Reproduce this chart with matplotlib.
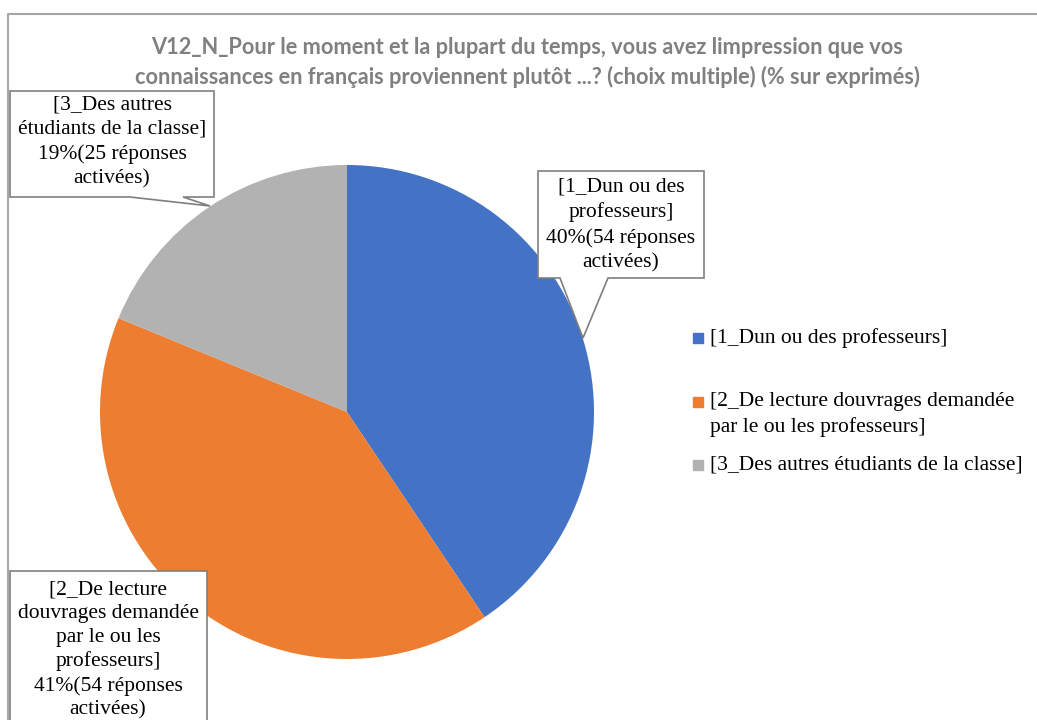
import numpy as np
import matplotlib
matplotlib.use("Agg")
import matplotlib.pyplot as plt
from matplotlib.patches import Polygon, Rectangle

# data
categories = ["[1_Dun ou des professeurs]",
              "[2_De lecture douvrages demandée par le ou les professeurs]",
              "[3_Des autres étudiants de la classe]"]
responses = [54, 54, 25]
pct_labels = ["40%", "41%", "19%"]
slice_labels = ["[1_Dun ou des\nprofesseurs]\n40%(54 réponses\nactivées)",
                "[2_De lecture\ndouvrages demandée\npar le ou les\nprofesseurs]\n41%(54 réponses\nactivées)",
                "[3_Des autres\nétudiants de la classe]\n19%(25 réponses\nactivées)"]
legend_labels = ["[1_Dun ou des professeurs]",
                 "[2_De lecture douvrages demandée\npar le ou les professeurs]",
                 "[3_Des autres étudiants de la classe]"]
colors = ["#4472C4", "#ED7D31", "#B2B2B2"]
title = ("V12_N_Pour le moment et la plupart du temps, vous avez limpression que vos\n"
         "connaissances en français proviennent plutôt ...? (choix multiple) (% sur exprimés)")

serif = "Liberation Serif"
fs = 15.5

W, H = 1037, 720
cx, cy, R = 347, 412, 247

fig = plt.figure(figsize=(W / 100, H / 100), dpi=100)
ax = fig.add_axes([0, 0, 1, 1])


def P(px, py):
    # pixel -> data
    return ((px - cx) / R, (cy - py) / R)


# chart frame
ax.plot([P(8, 0)[0], P(8, 0)[0], P(1037, 0)[0]],
        [P(0, 720)[1], P(0, 14)[1], P(0, 14)[1]], color="#A6A6A6", lw=1.5)

ax.pie(responses, colors=colors, startangle=90, counterclock=False,
       radius=1, center=(0, 0), frame=True)
ax.set_xlim(-cx / R, (W - cx) / R)
ax.set_ylim((cy - H) / R, cy / R)
ax.set_aspect("equal")
ax.axis("off")

fig.text(527 / W, 1 - 62.5 / H, title, ha="center", va="center", fontsize=15.7,
         family="Lato", fontweight="bold", color="#808080", linespacing=1.4)


def callout(box, tail=None):
    x0, y0, x1, y1 = box
    pts = [(x0, y0), (x1, y0), (x1, y1)]
    if tail:
        a, b, tip = tail
        pts += [(b, y1), tip, (a, y1)]
    pts += [(x0, y1)]
    ax.add_patch(Polygon([P(*p) for p in pts], closed=True, facecolor="white",
                         edgecolor="#7F7F7F", lw=1.2, zorder=5))


# callouts
callout((538, 171, 704, 278), (560, 608, (583, 338)))
ax.text(*P(621, 225), slice_labels[0], ha="center", va="center", fontsize=fs,
        family=serif, zorder=6, linespacing=1.37)
callout((10, 571, 207, 740))
ax.text(*P(108, 650), slice_labels[1], ha="center", va="center", fontsize=fs,
        family=serif, zorder=6, linespacing=1.32)
callout((10, 91, 214, 197), (130, 183, (210, 206)))
ax.text(*P(112, 142), slice_labels[2], ha="center", va="center", fontsize=fs,
        family=serif, zorder=6, linespacing=1.37)

# legend
leg_y = [338, 414.5, 465]
sq_y = [338, 402, 465]
for c, lab, y, sy in zip(colors, legend_labels, leg_y, sq_y):
    ax.add_patch(Rectangle(P(693, sy + 5), 10 / R, 10 / R, color=c))
    ax.text(*P(710, y), lab, ha="left", va="center", fontsize=fs,
            family=serif, linespacing=1.37)

fig.savefig("out.png", dpi=100)
